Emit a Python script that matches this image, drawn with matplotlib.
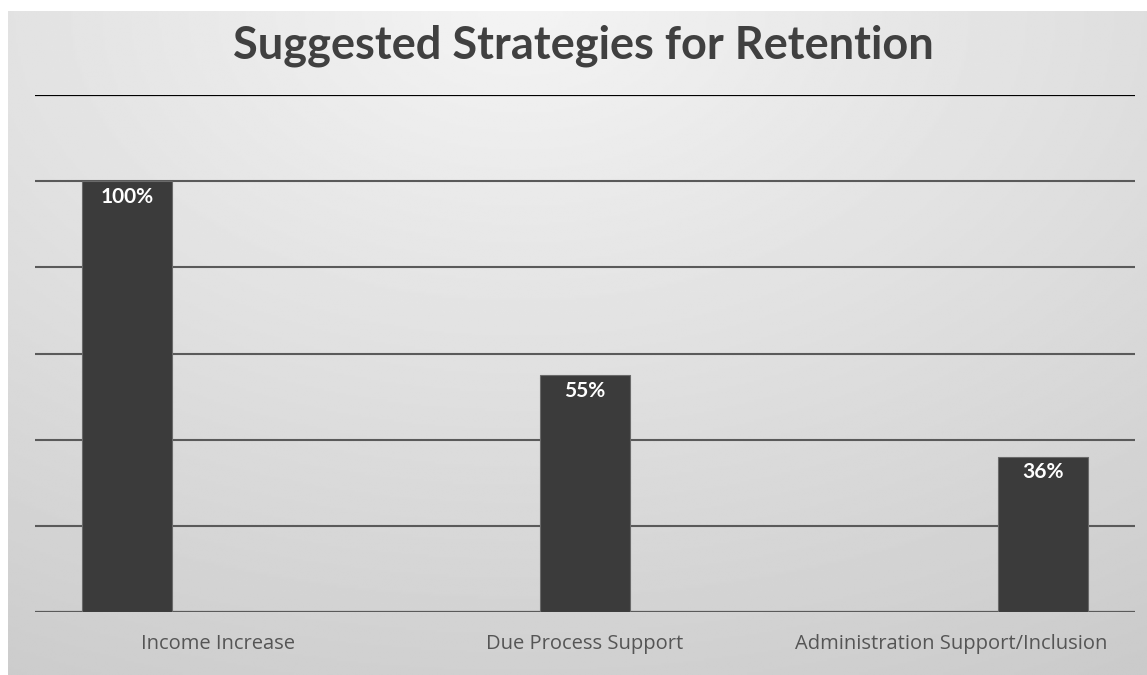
import matplotlib

matplotlib.use("Agg")
import matplotlib.pyplot as plt
import numpy as np

# ---- Data ------------------------------------------------------------------
categories = ["Income Increase", "Due Process Support", "Administration Support/Inclusion"]
values = [100, 55, 36]
labels = ["100%", "55%", "36%"]
title = "Suggested Strategies for Retention"

BAR = "#3b3b3b"
GRID = "#5a5a5a"
TEXT = "#404040"

plt.rcParams["font.family"] = ["Lato", "DejaVu Sans"]

fig = plt.figure(figsize=(11.47, 6.75), dpi=100)
fig.patch.set_facecolor("white")

# gradient background panel
bg = fig.add_axes([8 / 1147, 0, 1 - 8 / 1147, 1 - 11 / 675])
bg.set_axis_off()
yy, xx = np.mgrid[0:1:300j, 0:1:500j]
r = np.sqrt(((xx - 0.45) * 1.1) ** 2 + (yy * 1.0) ** 2)
shade = 0.955 - 0.16 * np.clip(r / 1.15, 0, 1)
bg.imshow(shade, cmap="gray", vmin=0, vmax=1, aspect="auto",
          extent=[0, 1, 1, 0], interpolation="bilinear")
bg.set_xlim(0, 1)
bg.set_ylim(1, 0)

ax = fig.add_axes([35 / 1147, 63 / 675, 1100 / 1147, 517 / 675])
ax.patch.set_alpha(0)
ax.set_xlim(-0.5, 2.5)
ax.set_ylim(0, 120)

step = 0.248
width = 0.245
for i, (v, lab) in enumerate(zip(values, labels)):
    x = i + (i - 1) * step
    ax.bar(x, v, width=width, color=BAR, edgecolor="#6a6a6a", linewidth=0.8, zorder=3)
    ax.text(x, v - 3.6, lab, ha="center", va="center", color="white",
            fontsize=15, fontweight="bold", zorder=4)

for t in range(0, 121, 20):
    ax.axhline(t, color="black" if t == 120 else GRID,
               lw=1.6 if t in (0, 120) else 1.5, zorder=1)

ax.set_xticks(range(len(categories)))
ax.set_xticklabels(categories, color="#555555", fontsize=14.5, family=["Open Sans", "DejaVu Sans"])
ax.tick_params(axis="x", length=0, pad=16)
ax.set_yticks([])
for s in ax.spines.values():
    s.set_visible(False)

fig.text(583 / 1147, 1 - 46 / 675, title, ha="center", va="center",
         fontsize=32.5, fontweight="bold", color=TEXT)

fig.savefig("out.png", dpi=100)
